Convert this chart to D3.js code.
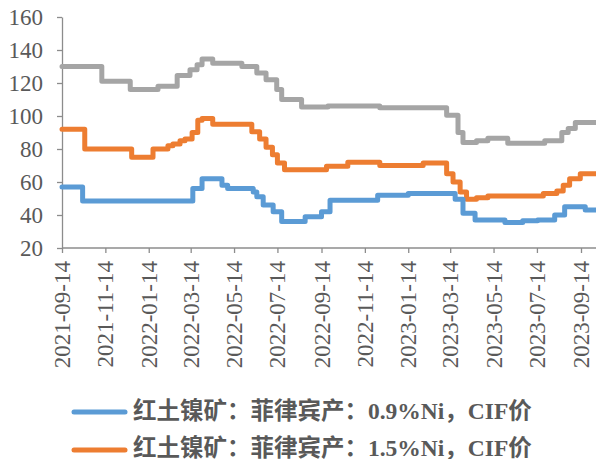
<!DOCTYPE html>
<html>
<head>
<meta charset="utf-8">
<script src="https://cdn.jsdelivr.net/npm/d3@7/dist/d3.min.js"></script>
<style>
  html, body { margin: 0; padding: 0; background: #fff; }
  svg { display: block; }
</style>
</head>
<body>
<svg id="chart" width="596" height="459"></svg>
<script>
// ---- data (step change points) ----
const seriesNames = ["红土镍矿：菲律宾产：0.9%Ni，CIF价", "红土镍矿：菲律宾产：1.5%Ni，CIF价", "红土镍矿：菲律宾产：1.8%Ni，CIF价"];

const dates09 = ["2021-09-14","2021-10-13","2022-03-17","2022-03-30","2022-04-27","2022-05-05","2022-06-10","2022-06-15","2022-06-24","2022-07-08","2022-07-20","2022-08-22","2022-09-14","2022-09-26","2022-12-02","2023-01-14","2023-03-21","2023-04-01","2023-04-18","2023-05-30","2023-06-24","2023-07-15","2023-08-08","2023-08-22","2023-09-20","2023-10-15"];
const values09 = [57,48.5,56,62,58,56,54,51,46,42,36,39,42,49,52,53,49.5,41,37,35.5,36.5,37,40,45,43,43];

const dates15 = ["2021-09-14","2021-10-16","2021-12-21","2022-01-20","2022-02-10","2022-02-17","2022-02-27","2022-03-06","2022-03-16","2022-03-24","2022-03-30","2022-04-14","2022-06-08","2022-06-19","2022-06-28","2022-07-07","2022-07-14","2022-07-24","2022-09-21","2022-10-21","2022-12-05","2023-02-04","2023-03-09","2023-03-18","2023-03-28","2023-04-06","2023-04-20","2023-05-06","2023-07-23","2023-08-11","2023-08-20","2023-08-29","2023-09-13","2023-10-15"];
const values15 = [92,80,75,80,82,83,85,86,90,97.5,98.5,95,90.5,86,81,76.5,71.5,67.5,69.5,72,70,71.5,65,60,54,49.5,50.5,51.5,53,54.5,58,62,65,65];

const dates18 = ["2021-09-14","2021-11-09","2021-12-19","2022-01-27","2022-02-23","2022-03-13","2022-03-23","2022-03-30","2022-04-14","2022-05-25","2022-06-15","2022-06-28","2022-07-13","2022-07-20","2022-08-17","2022-09-23","2022-12-05","2023-03-09","2023-03-25","2023-04-01","2023-04-20","2023-05-06","2023-06-03","2023-07-25","2023-08-18","2023-08-27","2023-09-06","2023-10-15"];
const values18 = [130,121,116,118,124.5,128,131,134.5,132,130,126,122,116,110,105.5,106,105,100.5,90,84,85,86.5,83.5,85,90,92.5,96,96];

const tickDates = ["2021-09-14","2021-11-14","2022-01-14","2022-03-14","2022-05-14","2022-07-14","2022-09-14","2022-11-14","2023-01-14","2023-03-14","2023-05-14","2023-07-14","2023-09-14"];
const yTicks = [20,40,60,80,100,120,140,160];

const colors = ["#5B9BD5", "#ED7D31", "#A5A5A5"];

// ---- layout ----
const parse = d3.timeParse("%Y-%m-%d");
const fmt = d3.timeFormat("%Y-%m-%d");
const svg = d3.select("#chart");
const mLeft = 62, mTop = 17, mBottom = 248;

const x = d3.scaleTime()
  .domain([parse("2021-09-14"), parse("2023-09-14")])
  .range([mLeft, 581]);
const y = d3.scaleLinear().domain([20, 160]).range([mBottom, mTop]);

const axisColor = "#8c8c8c";
const textColor = "#595959";

// y axis
const yAxis = svg.append("g")
  .attr("transform", `translate(${mLeft},0)`)
  .call(d3.axisLeft(y).tickValues(yTicks).tickSize(5).tickPadding(14).tickSizeOuter(0));
yAxis.select(".domain").attr("stroke", axisColor).attr("stroke-width", 1.3);
yAxis.selectAll(".tick line").attr("stroke", axisColor).attr("stroke-width", 1.3);
yAxis.selectAll("text")
  .attr("font-family", "'Liberation Serif', 'Times New Roman', serif")
  .attr("font-size", 23).attr("fill", textColor);

// x axis
const xAxis = svg.append("g")
  .attr("transform", `translate(0,${mBottom})`)
  .call(d3.axisBottom(x).tickValues(tickDates.map(parse)).tickFormat(fmt).tickSize(5).tickSizeOuter(0));
xAxis.select(".domain").remove();
xAxis.append("line").attr("x1", mLeft).attr("x2", 596).attr("y1", 0).attr("y2", 0)
  .attr("stroke", axisColor).attr("stroke-width", 1.3);
xAxis.selectAll(".tick line").attr("stroke", axisColor).attr("stroke-width", 1.3);
xAxis.selectAll("text")
  .attr("font-family", "'Liberation Serif', 'Times New Roman', serif")
  .attr("font-size", 23).attr("fill", textColor)
  .attr("text-anchor", "end")
  .attr("dy", null)
  .attr("dominant-baseline", "central")
  .attr("transform", "rotate(-90)")
  .attr("x", -13).attr("y", 0);

// lines
const series = [
  {dates: dates18, values: values18, color: colors[2]},
  {dates: dates15, values: values15, color: colors[1]},
  {dates: dates09, values: values09, color: colors[0]}
];
const line = d3.line()
  .x(d => x(d.date)).y(d => y(d.value))
  .curve(d3.curveStepAfter);

series.forEach(s => {
  const pts = s.dates.map((d, i) => ({date: parse(d), value: s.values[i]}));
  svg.append("path")
    .datum(pts)
    .attr("d", line)
    .attr("fill", "none")
    .attr("stroke", s.color)
    .attr("stroke-width", 5)
    .attr("stroke-linejoin", "round")
    .attr("stroke-linecap", "round");
});

// legend
const legendLineY = [412, 450];
const legendTextY = [411, 447.5];
[0, 1].forEach(i => {
  const g = svg.append("g");
  g.append("line").attr("x1", 74).attr("x2", 125)
    .attr("y1", legendLineY[i]).attr("y2", legendLineY[i])
    .attr("stroke", colors[i]).attr("stroke-width", 5).attr("stroke-linecap", "round");
  g.append("text").attr("x", 133).attr("y", legendTextY[i])
    .attr("dominant-baseline", "central")
    .attr("font-family", "'Liberation Serif', 'Noto Sans CJK SC', serif")
    .attr("font-weight", "bold")
    .attr("font-size", 23.5)
    .attr("fill", textColor)
    .text(seriesNames[i]);
});
</script>
</body>
</html>
